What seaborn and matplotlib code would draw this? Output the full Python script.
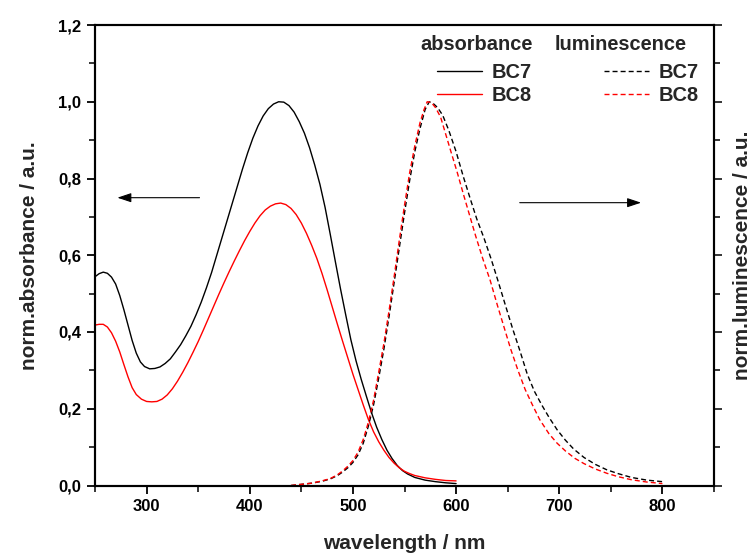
import matplotlib
matplotlib.use("Agg")
import matplotlib.pyplot as plt
from matplotlib.ticker import MultipleLocator, FuncFormatter
from matplotlib.lines import Line2D
import seaborn as sns
import pandas as pd

# Absorption spectra (normalised)
abs_wl_bc7 = [250, 254, 258, 262, 266, 270, 274, 278, 282, 286, 290, 294, 298, 303, 308, 313,
              318, 323, 328, 333, 338, 343, 348, 353, 358, 363, 368, 373, 378, 383, 388, 393,
              398, 403, 408, 413, 418, 423, 428, 433, 438, 443, 448, 453, 458, 463, 468, 473,
              478, 483, 488, 493, 498, 503, 508, 513, 518, 523, 528, 533, 538, 543, 548, 553,
              560, 570, 580, 590, 600]
abs_bc7 = [0.544, 0.552, 0.556, 0.553, 0.543, 0.525, 0.495, 0.458, 0.418, 0.378, 0.345, 0.322,
           0.31, 0.304, 0.305, 0.309, 0.318, 0.33, 0.348, 0.367, 0.39, 0.415, 0.445, 0.478,
           0.515, 0.555, 0.6, 0.645, 0.69, 0.735, 0.78, 0.825, 0.867, 0.905, 0.937, 0.963,
           0.982, 0.994, 1.0, 0.999, 0.99, 0.973, 0.948, 0.918, 0.88, 0.835, 0.785, 0.725,
           0.655, 0.583, 0.512, 0.445, 0.38, 0.325, 0.277, 0.233, 0.19, 0.152, 0.12, 0.092,
           0.07, 0.052, 0.039, 0.03, 0.021, 0.014, 0.01, 0.007, 0.005]

abs_wl_bc8 = [250, 254, 258, 262, 266, 270, 274, 278, 282, 286, 290, 295, 300, 305, 310, 315,
              320, 325, 330, 335, 340, 345, 350, 355, 360, 365, 370, 375, 380, 385, 390, 395,
              400, 405, 410, 415, 420, 425, 430, 435, 440, 445, 450, 455, 460, 465, 470, 475,
              480, 485, 490, 495, 500, 505, 510, 515, 520, 525, 530, 535, 540, 545, 550, 555,
              560, 570, 580, 590, 600]
abs_bc8 = [0.418, 0.42, 0.42, 0.413, 0.398, 0.376, 0.348, 0.315, 0.283, 0.255, 0.237, 0.225,
           0.219, 0.218, 0.219, 0.225, 0.236, 0.252, 0.272, 0.295, 0.32, 0.347, 0.375, 0.405,
           0.436, 0.467, 0.498, 0.528, 0.557, 0.585, 0.612, 0.638, 0.662, 0.684, 0.703, 0.718,
           0.728, 0.734, 0.736, 0.732, 0.722, 0.706, 0.684, 0.657, 0.626, 0.592, 0.553, 0.51,
           0.465, 0.42, 0.376, 0.333, 0.29, 0.25, 0.21, 0.172, 0.14, 0.114, 0.092, 0.073,
           0.058, 0.046, 0.037, 0.031, 0.026, 0.02, 0.016, 0.013, 0.012]

# Luminescence spectra (normalised)
lum_wl_bc7 = [440, 450, 460, 470, 478, 485, 490, 495, 500, 505, 510, 515, 520, 525, 530, 535,
              540, 545, 550, 555, 560, 565, 570, 574, 578, 582, 587, 593, 600, 607, 614, 620,
              627, 634, 641, 648, 655, 662, 669, 676, 683, 690, 698, 706, 714, 724, 735, 746,
              757, 770, 785, 800]
lum_bc7 = [0.0, 0.003, 0.006, 0.011, 0.017, 0.026, 0.035, 0.046, 0.06, 0.08, 0.11, 0.155,
           0.21, 0.28, 0.355, 0.44, 0.53, 0.62, 0.71, 0.795, 0.87, 0.93, 0.98, 1.0, 0.995,
           0.985, 0.965, 0.925, 0.87, 0.805, 0.745, 0.695, 0.645, 0.59, 0.53, 0.468, 0.407,
           0.35, 0.29, 0.245, 0.21, 0.178, 0.145, 0.118, 0.095, 0.073, 0.055, 0.041, 0.031,
           0.021, 0.014, 0.01]

lum_wl_bc8 = [440, 450, 460, 470, 478, 485, 490, 495, 500, 505, 510, 515, 520, 525, 530, 535,
              540, 545, 550, 555, 560, 565, 569, 572, 576, 580, 585, 590, 595, 601, 607, 613,
              619, 626, 633, 640, 647, 653, 660, 667, 674, 681, 690, 698, 706, 715, 724, 735,
              746, 757, 770, 785, 800]
lum_bc8 = [0.0, 0.003, 0.006, 0.012, 0.018, 0.028, 0.038, 0.05, 0.065, 0.087, 0.12, 0.165,
           0.222, 0.295, 0.37, 0.455, 0.545, 0.64, 0.73, 0.815, 0.885, 0.945, 0.98, 1.0,
           0.998, 0.985, 0.96, 0.915, 0.87, 0.817, 0.76, 0.705, 0.65, 0.59, 0.535, 0.47,
           0.408, 0.355, 0.3, 0.25, 0.21, 0.172, 0.135, 0.11, 0.09, 0.071, 0.057, 0.043,
           0.032, 0.023, 0.015, 0.009, 0.005]

x_ticks = [300, 400, 500, 600, 700, 800]
y_ticks = [0.0, 0.2, 0.4, 0.6, 0.8, 1.0, 1.2]

sns.set_theme(style="ticks")
plt.rcParams["font.family"] = ["Liberation Sans", "DejaVu Sans"]
plt.rcParams["font.weight"] = "bold"
plt.rcParams["axes.labelweight"] = "bold"

fig = plt.figure(figsize=(7.55, 5.53), dpi=100)
ax = fig.add_axes([95 / 755, 1 - 485.5 / 553, 619 / 755, 460.5 / 553])
ax2 = ax.twinx()

LW = 1.0
DASH = (3.6, 2.2)

df_a7 = pd.DataFrame({"wl": abs_wl_bc7, "v": abs_bc7})
df_a8 = pd.DataFrame({"wl": abs_wl_bc8, "v": abs_bc8})
df_l7 = pd.DataFrame({"wl": lum_wl_bc7, "v": lum_bc7})
df_l8 = pd.DataFrame({"wl": lum_wl_bc8, "v": lum_bc8})

sns.lineplot(data=df_a7, x="wl", y="v", ax=ax, color="black", lw=LW, sort=False)
sns.lineplot(data=df_a8, x="wl", y="v", ax=ax, color="#ff0000", lw=LW, sort=False)
sns.lineplot(data=df_l7, x="wl", y="v", ax=ax2, color="black", lw=LW, sort=False)
sns.lineplot(data=df_l8, x="wl", y="v", ax=ax2, color="#ff0000", lw=LW, sort=False)
for ln in ax2.lines:
    ln.set_dashes(DASH)

for a in (ax, ax2):
    a.set_xlim(250, 850)
    a.set_ylim(0, 1.2)
    a.yaxis.set_major_locator(MultipleLocator(0.2))
    a.yaxis.set_minor_locator(MultipleLocator(0.1))
    for s in a.spines.values():
        s.set_visible(True)
        s.set_linewidth(1.5)
        s.set_color("black")

ax.set_xticks(x_ticks)
ax.xaxis.set_minor_locator(MultipleLocator(50))
ax.set_yticks(y_ticks)
ax.yaxis.set_major_formatter(FuncFormatter(lambda v, p: f"{v:.1f}".replace(".", ",")))
ax.tick_params(axis="both", which="major", direction="out", length=6, width=1.3,
               labelsize=12, colors="black", pad=4)
ax.tick_params(axis="both", which="minor", direction="out", length=4, width=1.3)
ax.tick_params(axis="x", top=False, which="both")
ax.tick_params(axis="y", right=False, which="both")
ax2.tick_params(axis="y", which="major", direction="out", length=6, width=1.3,
                labelright=False, right=True)
ax2.tick_params(axis="y", which="minor", direction="out", length=4, width=1.3, right=True)
ax2.set_yticks(y_ticks)
ax2.set_yticklabels([])

ax.set_xlabel("wavelength / nm", fontsize=15, fontweight="bold", labelpad=14)
ax.set_ylabel("norm.absorbance / a.u.", fontsize=15, fontweight="bold", labelpad=14)
ax2.set_ylabel("norm.luminescence / a.u.", fontsize=15, fontweight="bold", labelpad=6)

# Direction arrows pointing to the relevant axis
ax.annotate("", xy=(269, 0.75), xytext=(354, 0.75),
            arrowprops=dict(arrowstyle="-|>,head_length=0.6,head_width=0.2", color="black",
                            lw=0.8, mutation_scale=14))
ax.annotate("", xy=(782, 0.737), xytext=(659, 0.737),
            arrowprops=dict(arrowstyle="-|>,head_length=0.6,head_width=0.2", color="black",
                            lw=0.8, mutation_scale=14))

# Two-column legend: absorbance (solid) and luminescence (dashed)
fs = 14.4
ax.text((420 - 95) / 619, (485.5 - 44) / 460.5, "absorbance", transform=ax.transAxes,
        fontsize=fs, fontweight="bold", ha="left", va="center")
ax.text((555 - 95) / 619, (485.5 - 44) / 460.5, "luminescence", transform=ax.transAxes,
        fontsize=fs, fontweight="bold", ha="left", va="center")

h_abs = [Line2D([], [], color="black", lw=LW), Line2D([], [], color="#ff0000", lw=LW)]
h_lum = [Line2D([], [], color="black", lw=LW, dashes=DASH),
         Line2D([], [], color="#ff0000", lw=LW, dashes=DASH)]
leg_kw = dict(frameon=False, loc="center left", borderpad=0, borderaxespad=0,
              handlelength=2.25, handletextpad=0.5, labelspacing=0.18,
              prop={"size": fs, "weight": "bold"})
leg1 = ax2.legend(h_abs, ["BC7", "BC8"],
                  bbox_to_anchor=((437 - 95) / 619, (485.5 - 84) / 460.5), **leg_kw)
ax2.add_artist(leg1)
ax2.legend(h_lum, ["BC7", "BC8"],
           bbox_to_anchor=((604 - 95) / 619, (485.5 - 84) / 460.5), **leg_kw)

fig.savefig("out.png", dpi=100)
